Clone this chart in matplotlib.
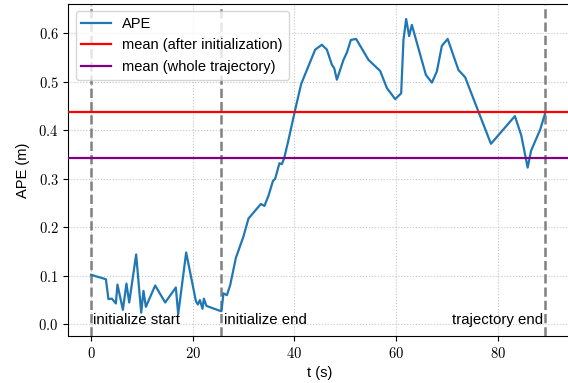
import matplotlib
matplotlib.use("Agg")
import matplotlib.pyplot as plt
from matplotlib.ticker import FuncFormatter

plt.rcParams['font.family'] = ['Liberation Sans', 'DejaVu Sans']
plt.rcParams['mathtext.fontset'] = 'cm'

t = [0.0, 2.89, 3.40, 4.07, 4.86, 5.17, 6.24, 6.94, 7.48, 8.85, 9.84, 10.29, 10.76,
     12.59, 14.56, 16.66, 17.12, 18.69, 20.60, 20.99, 21.39, 21.90, 22.17, 22.68,
     25.04, 25.63, 26.03, 26.70, 27.35, 28.47, 29.96, 30.95, 33.39, 34.09, 34.88,
     35.75, 36.20, 37.04, 37.52, 37.97, 38.82, 40.13, 41.31, 42.24, 44.07, 45.39,
     46.37, 47.35, 47.81, 48.34, 49.64, 50.31, 51.09, 52.13, 54.55, 56.86, 58.17,
     58.96, 59.81, 60.99, 61.44, 61.97, 62.56, 63.09, 65.85, 67.03, 68.01, 69.00,
     70.14, 72.26, 73.58, 76.20, 78.65, 83.36, 84.60, 85.87, 86.56, 88.33, 89.38]
ape = [0.102, 0.093, 0.052, 0.053, 0.043, 0.082, 0.030, 0.084, 0.045, 0.144, 0.024,
       0.069, 0.036, 0.080, 0.045, 0.076, 0.021, 0.148, 0.048, 0.041, 0.050, 0.032,
       0.053, 0.038, 0.029, 0.027, 0.064, 0.060, 0.081, 0.137, 0.181, 0.218, 0.248,
       0.244, 0.265, 0.295, 0.300, 0.332, 0.330, 0.342, 0.380, 0.442, 0.495, 0.519,
       0.566, 0.576, 0.566, 0.535, 0.528, 0.504, 0.545, 0.560, 0.586, 0.588, 0.545,
       0.522, 0.487, 0.476, 0.464, 0.476, 0.586, 0.629, 0.594, 0.617, 0.514, 0.498,
       0.521, 0.574, 0.588, 0.524, 0.509, 0.438, 0.372, 0.429, 0.390, 0.323, 0.358,
       0.401, 0.437]

mean_after_init = 0.437
mean_whole = 0.342
event_times = [0.0, 25.63, 89.38]
event_labels = ["initialize start", "initialize end", "trajectory end"]
event_align = ["left", "left", "right"]

fig = plt.figure(figsize=(5.68, 3.83), dpi=100)
ax = fig.add_axes([68.3 / 568, 1 - 336 / 383, 503.2 / 568, (336 - 4) / 383])

ax.plot(t, ape, color='#1f77b4', lw=1.6, label='APE', zorder=3)
ax.axhline(mean_after_init, color='red', lw=1.6, label='mean (after initialization)', zorder=3)
ax.axhline(mean_whole, color='purple', lw=1.6, label='mean (whole trajectory)', zorder=3)
for x, lab, ha in zip(event_times, event_labels, event_align):
    ax.axvline(x, color='gray', ls='--', lw=1.8, zorder=2)
    off = 0.45 if ha == 'left' else -0.45
    ax.text(x + off, 0.0, lab, ha=ha, va='baseline', fontsize=10.8, zorder=4)

ax.set_xlim(-4.5, 94.5)
ax.set_ylim(-0.024, 0.66)
ax.set_xticks([0, 20, 40, 60, 80])
ax.set_yticks([0.0, 0.1, 0.2, 0.3, 0.4, 0.5, 0.6])
ax.xaxis.set_major_formatter(FuncFormatter(lambda v, p: r'$%d$' % v))
ax.yaxis.set_major_formatter(FuncFormatter(lambda v, p: r'$%.1f$' % v))
ax.tick_params(labelsize=10.5)
ax.grid(True, ls=':', color='#c4c4c4', lw=0.8, zorder=0)
ax.set_axisbelow(True)
ax.set_xlabel('t (s)', fontsize=10.5)
ax.set_ylabel('APE (m)', fontsize=10.5, labelpad=6)
ax.legend(loc='upper left', fontsize=10.5)

fig.savefig('out.png', dpi=100)
